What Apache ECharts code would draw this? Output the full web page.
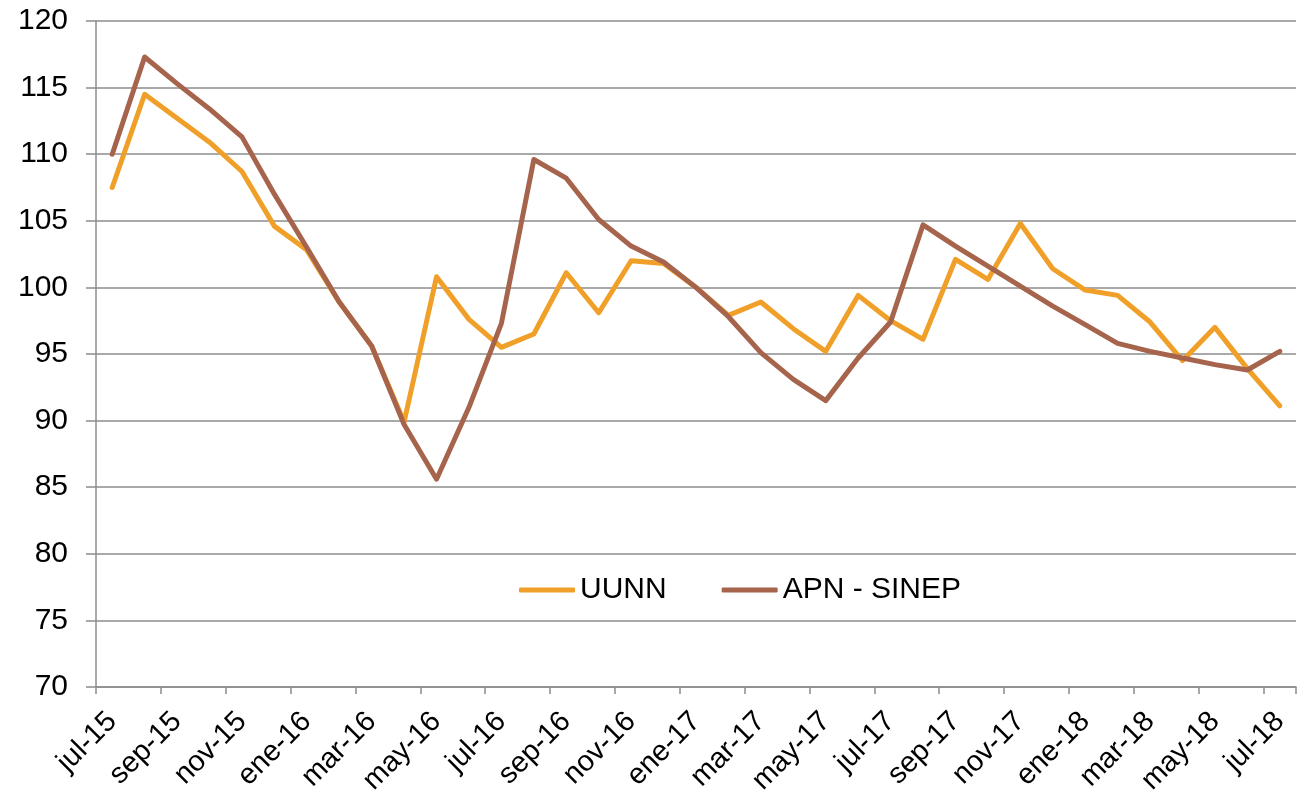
<!DOCTYPE html>
<html>
<head>
<meta charset="utf-8">
<script src="https://cdn.jsdelivr.net/npm/echarts@6/dist/echarts.min.js"></script>
<style>
html,body{margin:0;padding:0;background:#fff;}
#chart{width:1310px;height:792px;}
</style>
</head>
<body>
<div id="chart"></div>
<script>
var categories = [
 'jul-15','ago-15','sep-15','oct-15','nov-15','dic-15',
 'ene-16','feb-16','mar-16','abr-16','may-16','jun-16','jul-16','ago-16','sep-16','oct-16','nov-16','dic-16',
 'ene-17','feb-17','mar-17','abr-17','may-17','jun-17','jul-17','ago-17','sep-17','oct-17','nov-17','dic-17',
 'ene-18','feb-18','mar-18','abr-18','may-18','jun-18','jul-18'
];
var seriesNames = ['UUNN', 'APN - SINEP'];
var uunn = [
 107.5,114.5,112.7,110.9,108.7,104.6,
 102.8,98.9,95.6,89.9,100.8,97.6,95.5,96.5,101.1,98.1,102.0,101.8,
 100.0,97.9,98.9,96.9,95.2,99.4,97.5,96.1,102.1,100.6,104.8,101.4,
 99.8,99.4,97.4,94.5,97.0,93.9,91.1
];
var apn = [
 110.0,117.3,115.3,113.4,111.3,107.0,
 103.0,98.9,95.6,89.7,85.6,91.0,97.3,109.6,108.2,105.1,103.1,101.9,
 100.0,97.8,95.1,93.1,91.5,94.7,97.4,104.7,103.1,101.6,100.1,98.6,
 97.2,95.8,95.2,94.7,94.2,93.8,95.2
];
var yMin = 70, yMax = 120, yStep = 5;

var chart = echarts.init(document.getElementById('chart'), null, {renderer:'canvas'});
var gray = '#8c8c8c';
var font = 'Liberation Sans, Arial, sans-serif';
chart.setOption({
  animation: false,
  backgroundColor: '#fff',
  grid: {left: 96, right: 14, top: 21, bottom: 105, containLabel: false, outerBoundsMode: 'none'},
  legend: {
    data: seriesNames,
    left: 514, top: 568,
    icon: 'roundRect',
    itemWidth: 56, itemHeight: 5, itemGap: 55,
    textStyle: {fontFamily: font, fontSize: 30, color: '#000', lineHeight: 34}
  },
  xAxis: {
    type: 'category',
    data: categories,
    boundaryGap: true,
    axisLine: {show: true, lineStyle: {color: gray, width: 1.5}},
    axisTick: {show: true, interval: 1, length: 7, lineStyle: {color: gray, width: 1.5}},
    axisLabel: {interval: 1, rotate: 45, margin: 30, verticalAlign: 'middle',
                fontFamily: font, fontSize: 29, color: '#000'},
    splitLine: {show: false}
  },
  yAxis: {
    type: 'value',
    min: yMin, max: yMax, interval: yStep,
    axisLine: {show: true, lineStyle: {color: gray, width: 1.5}},
    axisTick: {show: true, length: 10, lineStyle: {color: gray, width: 1.5}},
    axisLabel: {margin: 28, fontFamily: font, fontSize: 30, color: '#000'},
    splitLine: {show: true, lineStyle: {color: gray, width: 1.5}}
  },
  series: [
    {name: seriesNames[0], type: 'line', data: uunn, symbol: 'none', color: '#F0A028',
     lineStyle: {width: 5, color: '#F0A028', cap: 'round', join: 'round'}},
    {name: seriesNames[1], type: 'line', data: apn, symbol: 'none', color: '#A5644B',
     lineStyle: {width: 5, color: '#A5644B', cap: 'round', join: 'round'}}
  ]
});
</script>
</body>
</html>
